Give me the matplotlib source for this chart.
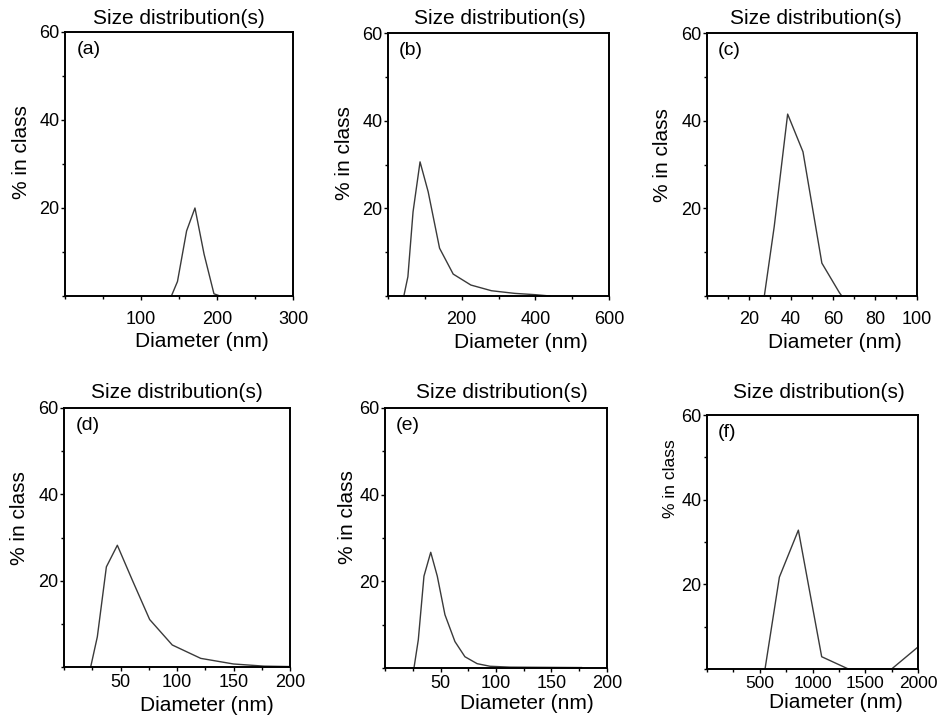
import matplotlib
matplotlib.use("Agg")
import matplotlib.pyplot as plt
from matplotlib.ticker import MultipleLocator, FixedLocator

plt.rcParams["font.family"] = ["Liberation Sans", "DejaVu Sans"]

# Values (diameter in nm, % in class)
a_x = [140, 148, 160, 171, 183, 196, 204]
a_y = [0, 3.3, 14.8, 20.0, 9.5, 0.5, 0]

b_x = [43, 54, 68, 87, 109, 140, 177, 225, 281, 344, 400, 440]
b_y = [0, 4.4, 19.2, 30.6, 23.8, 10.9, 5.0, 2.5, 1.2, 0.6, 0.3, 0]

c_x = [27.3, 32, 38.4, 45.7, 54.7, 63, 64.2]
c_y = [0, 15.8, 41.5, 32.9, 7.5, 0.8, 0]

d_x = [23.6, 29.5, 37.5, 47.2, 60.5, 75.8, 95.8, 121, 150, 177, 200]
d_y = [0, 7.0, 23.2, 28.2, 20.1, 11.0, 5.1, 2.0, 0.7, 0.2, 0.1]

e_x = [26.1, 30, 35.1, 41.2, 47.1, 54, 63, 72, 83, 94.6, 112.6, 177]
e_y = [0, 6.5, 21.2, 26.7, 21.2, 12.3, 6.1, 2.6, 1.0, 0.4, 0.2, 0.1]

f_x = [550, 686, 866, 1087, 1340, 1750, 2000]
f_y = [0, 21.7, 32.8, 2.9, 0, 0, 5.2]

panel_labels = ["(a)", "(b)", "(c)", "(d)", "(e)", "(f)"]
x_limits = [300, 600, 100, 200, 200, 2000]
x_major = [[100, 200, 300], [200, 400, 600], [20, 40, 60, 80, 100],
           [50, 100, 150, 200], [50, 100, 150, 200], [500, 1000, 1500, 2000]]
x_minor = [50, 100, 10, 25, 25, 250]
y_major = [20, 40, 60]

# axes boxes in pixels: left, right, top, bottom
boxes = [(65, 293, 32, 296), (388, 609, 33, 296), (707, 917, 33, 296),
         (64, 290, 408, 667), (385, 607, 408, 668), (707, 918, 415, 669)]
title_pos = [(0.5, 1.053), (0.507, 1.057), (0.52, 1.057),
             (0.5, 1.058), (0.527, 1.058), (0.53, 1.087)]
xlabel_pos = [(0.6, -0.174), (0.6, -0.175), (0.61, -0.175),
              (0.63, -0.147), (0.64, -0.135), (0.61, -0.13)]
ylabel_pos = [(-0.189, 0.545), (-0.195, 0.544), (-0.21, 0.536),
              (-0.195, 0.575), (-0.171, 0.58), (-0.175, 0.75)]
xtick_pad = [8, 8, 8, 2, 2, 2]
xtick_size = [13, 13, 13, 13, 13, 12.5]

W, H = 941, 725
fig = plt.figure(figsize=(W / 100, H / 100), dpi=100)

series = [(a_x, a_y), (b_x, b_y), (c_x, c_y), (d_x, d_y), (e_x, e_y), (f_x, f_y)]

for i, (xs, ys) in enumerate(series):
    l, r, t, b = boxes[i]
    ax = fig.add_axes([l / W, 1 - b / H, (r - l) / W, (b - t) / H])
    ax.plot(xs, ys, color="#3a3a3a", linewidth=1.0, clip_on=False)
    ax.set_xlim(0, x_limits[i])
    ax.set_ylim(0, 60)
    ax.xaxis.set_major_locator(FixedLocator(x_major[i]))
    ax.xaxis.set_minor_locator(MultipleLocator(x_minor[i]))
    ax.yaxis.set_major_locator(FixedLocator(y_major))
    ax.yaxis.set_minor_locator(MultipleLocator(10))
    ax.tick_params(which="both", direction="out", width=1.0, labelsize=13)
    ax.tick_params(which="major", length=3)
    ax.tick_params(which="minor", length=2)
    ax.tick_params(axis="x", pad=xtick_pad[i], labelsize=xtick_size[i])
    ax.tick_params(axis="y", pad=1)
    for sp in ax.spines.values():
        sp.set_linewidth(1.4)

    ax.text(title_pos[i][0], title_pos[i][1], "Size distribution(s)",
            transform=ax.transAxes, ha="center", va="center", fontsize=15)
    ax.text(0.05, 0.965, panel_labels[i], transform=ax.transAxes,
            ha="left", va="top", fontsize=14)
    ax.set_xlabel("Diameter (nm)", fontsize=15)
    ax.xaxis.set_label_coords(*xlabel_pos[i])
    ax.get_xaxis().label.set_va("center")
    ax.set_ylabel("% in class", fontsize=12.5 if i == 5 else 15)
    ax.yaxis.set_label_coords(*ylabel_pos[i])
    ax.get_yaxis().label.set_va("center")

fig.savefig("out.png", dpi=100)
